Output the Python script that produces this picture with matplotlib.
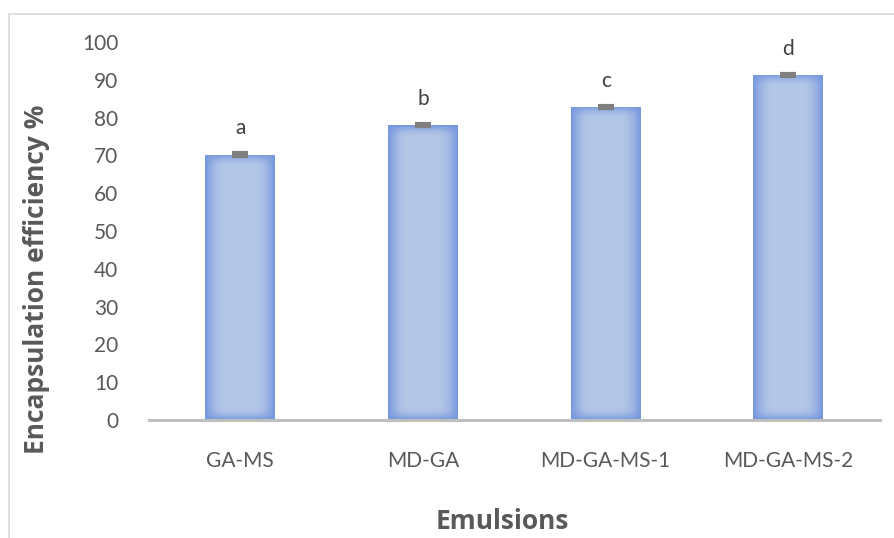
import matplotlib.pyplot as plt
import numpy as np
from matplotlib.patches import Rectangle

plt.rcParams['font.family'] = ['Lato', 'DejaVu Sans']

categories = ['GA-MS', 'MD-GA', 'MD-GA-MS-1', 'MD-GA-MS-2']
values = [70.2, 78.0, 82.8, 91.3]
errors = [0.3, 0.3, 0.3, 0.3]
letters = ['a', 'b', 'c', 'd']

text_col = '#595959'

fig = plt.figure(figsize=(8.95, 5.38), dpi=100)
ax = fig.add_axes([0.1665, 0.2193, 0.8165, 0.7027])

x = np.arange(len(categories))
bars = ax.bar(x, values, width=0.383, color='#A9BEE6', edgecolor='none', zorder=2)

ax.set_xlim(-0.5, 3.5)
ax.set_ylim(0, 100)

# gradient fill: light centre, darker blue edges (edge width in pixels)
light = np.array([0.706, 0.780, 0.906])
dark = np.array([0.455, 0.584, 0.867])
px_per_x = 0.8165 * 895 / 4.0
px_per_y = 0.7027 * 538 / 100.0
for b in bars:
    x0, y0 = b.get_x(), b.get_y()
    w, h = b.get_width(), b.get_height()
    wp, hp = int(round(w * px_per_x)), int(round(h * px_per_y))
    xs = np.arange(wp) + 0.5
    ys = np.arange(hp) + 0.5
    dx = np.minimum(xs, wp - xs)
    dy = np.minimum(ys, hp - ys)
    fx = np.clip(1 - dx / 22.0, 0, 1) ** 2.2
    fy = np.clip(1 - dy / 14.0, 0, 1) ** 2.2
    d = 1 - (1 - fx[None, :]) * (1 - fy[:, None])
    img = light * (1 - d[..., None]) + dark * d[..., None]
    im = ax.imshow(img, extent=[x0, x0 + w, y0, y0 + h], aspect='auto',
                   origin='lower', zorder=3, interpolation='bilinear')
    im.set_clip_path(b)

ax.errorbar(x, values, yerr=errors, fmt='none', ecolor='#7F7F7F',
            elinewidth=1, capsize=6, capthick=3, zorder=4)

for xi, v, t in zip(x, values, letters):
    ax.text(xi, v + 4.3, t, ha='center', va='bottom', fontsize=15, color='#404040')

ax.set_yticks(range(0, 101, 10))
ax.set_xticks(x)
ax.set_xticklabels(categories)
ax.tick_params(axis='both', length=0, labelsize=15, colors=text_col)
ax.tick_params(axis='y', pad=22)
ax.tick_params(axis='x', pad=22)

for s in ['top', 'right', 'left']:
    ax.spines[s].set_visible(False)
ax.spines['bottom'].set_color('#BFBFBF')
ax.spines['bottom'].set_linewidth(2.2)
ax.spines['bottom'].set_zorder(5)

fig.text(0.041, 0.48, 'Encapsulation efficiency %', rotation=90, ha='center', va='center',
         fontsize=19, fontweight='bold', color=text_col, family=['Open Sans', 'DejaVu Sans'])
fig.text(0.561, 0.030, 'Emulsions', ha='center', va='center',
         fontsize=19, fontweight='bold', color=text_col, family=['Open Sans', 'DejaVu Sans'])

# chart area border (only top and left edges visible)
fig.add_artist(Rectangle((9.5 / 895, -0.1), 1.2, 1 - 14 / 538 + 0.1,
                         transform=fig.transFigure, fill=False,
                         edgecolor='#D9D9D9', linewidth=1.2))

fig.savefig('out.png', dpi=100)
